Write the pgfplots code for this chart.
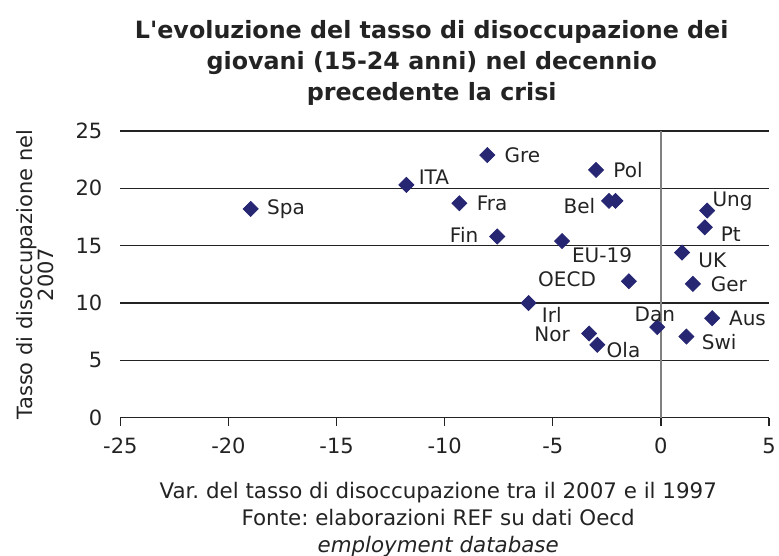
\documentclass[border=0pt]{standalone}
\usepackage{pgfplots}
\pgfplotsset{compat=1.18}
\usepackage{pgfplotstable}
\usepackage{fontspec}
\setmainfont{DejaVu Sans}
\usetikzlibrary{calc}
\frenchspacing

\definecolor{navy}{RGB}{38,38,115}
\definecolor{txt}{RGB}{35,35,35}

% x y dx dy (label offset in pt) label -- labels to the right
\pgfplotstableread{
x      y      dx     dy    label
-18.97 18.20  8.0    0.0   Spa
-11.77 20.30  6.0    4.0   ITA
-8.03  22.90  8.5    0.0   Gre
-9.32  18.70  8.5    0.0   Fra
-4.57  15.40  4.8    -7.3  EU-19
-3.00  21.60  8.5    0.0   Pol
-2.10  18.90  0.0    0.0   {}
-6.12  10.00  6.5    -5.7  Irl
-2.94  6.36   4.5    -2.5  Ola
2.37   8.68   8.3    0.0   Aus
1.18   7.08   7.5    -2.5  Swi
1.48   11.67  8.8    0.0   Ger
0.98   14.40  8.0    -4.0  UK
2.03   16.60  7.8    -3.5  Pt
2.14   18.06  2.5    4.5   Ung
}\destra

% labels to the left
\pgfplotstableread{
x      y      dx     dy    label
-7.57  15.80  -9.3   1.0   Fin
-2.40  18.90  -6.7   -2.7  Bel
-1.48  11.90  -16.3  1.0   OECD
-3.32  7.35   -9.5   -0.5  Nor
}\sinistra

% label above
\pgfplotstableread{
x      y      dx     dy    label
-0.17  7.90   -1.2   6.5   Dan
}\sopra

\pgfplotsset{
  paese/.style={
    only marks,
    mark=square*,
    mark size=2.65pt,
    mark options={rotate=45, fill=navy, draw=navy},
    point meta=explicit symbolic,
    nodes near coords,
    visualization depends on={\thisrow{dx} \as \dx},
    visualization depends on={\thisrow{dy} \as \dy},
    every node near coord/.append style={font=\fontsize{10}{12}\selectfont, text=txt,
        inner sep=0pt, anchor=#1, xshift=\dx pt, yshift=\dy pt},
  }
}

\begin{document}
\begin{tikzpicture}
\begin{axis}[
    name=ax,
    scale only axis,
    width=324.5pt, height=143.5pt,
    xmin=-25, xmax=5, ymin=0, ymax=25,
    xtick={-25,-20,...,5}, ytick={0,5,...,25},
    axis x line*=bottom,
    axis y line*=left,
    y axis line style={draw=none},
    ytick style={draw=none},
    x axis line style={txt, line width=0.6pt},
    xtick style={txt, line width=0.6pt},
    tick align=outside,
    major tick length=4pt,
    ymajorgrids,
    grid style={txt, line width=0.6pt},
    /pgf/number format/assume math mode=true,
    tick label style={font=\fontsize{10.5}{12}\selectfont, text=txt},
    yticklabel style={xshift=-1.5pt},
    xticklabel style={yshift=-2.5pt},
    title={L\textquotesingle evoluzione del tasso di disoccupazione dei\\giovani (15-24 anni) nel decennio\\precedente la crisi},
    title style={font=\bfseries\fontsize{11.9}{15.5}\selectfont, align=center, text=txt,
        at={(0.48,1)}, anchor=south, yshift=3pt},
    ylabel={Tasso di disoccupazione nel\\2007},
    ylabel style={font=\fontsize{10.5}{10.5}\selectfont, align=center, text=txt},
    ylabel shift=4pt,
    xlabel={Var. del tasso di disoccupazione tra il 2007 e il 1997\\Fonte: elaborazioni REF su dati Oecd\\\textit{employment database}},
    xlabel style={font=\fontsize{10.7}{13.6}\selectfont, align=center, text=txt,
        at={(0.49,0)}, anchor=north, yshift=-28.5pt},
]
\addplot[draw=black!50, line width=0.6pt, no marks] coordinates {(0,0) (0,25)};
\addplot[paese=west] table[x=x, y=y, meta=label] {\destra};
\addplot[paese=east] table[x=x, y=y, meta=label] {\sinistra};
\addplot[paese=center] table[x=x, y=y, meta=label] {\sopra};
\end{axis}
\pgfresetboundingbox
\path[use as bounding box] ($(ax.south west)+(-60.2pt,-69pt)$) rectangle ($(ax.north east)+(5pt,65.5pt)$);
\end{tikzpicture}
\end{document}
